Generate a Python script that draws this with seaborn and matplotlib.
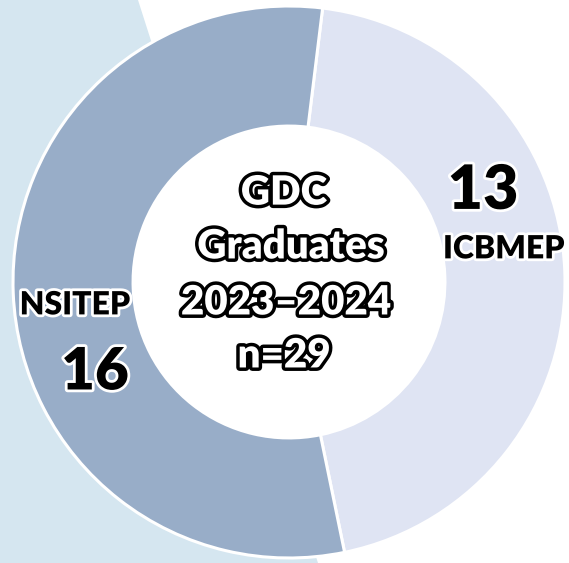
import matplotlib
matplotlib.use("Agg")
import matplotlib.pyplot as plt
import matplotlib.patheffects as pe
from matplotlib.patches import Polygon
import seaborn as sns

programs = ["ICBMEP", "NSITEP"]
graduates = [13, 16]
slice_colors = ["#dfe4f3", "#98adc8"]
center_lines = ["GDC", "Graduates", "2023–2024", "n=29"]

sns.set_theme(style="white")
plt.rcParams["font.family"] = ["Lato", "DejaVu Sans"]

W, H = 569, 563
fig = plt.figure(figsize=(W / 100, H / 100), dpi=100)
fig.patch.set_facecolor("white")

# light blue backdrop on the left
fig.patches.append(Polygon([(0, 1), (138 / W, 1), (318 / W, 0), (0, 0)],
                           closed=True, transform=fig.transFigure,
                           facecolor="#d5e6f0", edgecolor="none", zorder=-1))

cx, cy, R = 289, 282, 276
ax = fig.add_axes([(cx - R) / W, 1 - (cy + R) / H, 2 * R / W, 2 * R / H])
ax.set_facecolor("none")
ax.set_zorder(2)

ax.pie(graduates, colors=slice_colors, startangle=83, counterclock=False,
       radius=1.0, wedgeprops=dict(width=0.435, edgecolor="white", linewidth=2.2))
ax.add_patch(plt.Circle((0, 0), 0.565, facecolor="white", edgecolor="none", zorder=0.5))
ax.set_xlim(-1, 1)
ax.set_ylim(-1, 1)
ax.axis("off")

white_edge = [pe.withStroke(linewidth=4, foreground="white")]
black_edge = [pe.withStroke(linewidth=5, foreground="black")]

# slice labels
ax.text(0.703, 0.33, str(graduates[0]), ha="center", va="center", fontsize=44,
        fontweight="heavy", color="black", path_effects=white_edge)
ax.text(0.779, 0.12, programs[0], ha="center", va="center", fontsize=23,
        fontweight="heavy", color="black", path_effects=white_edge)
ax.text(-0.775, -0.083, programs[1], ha="center", va="center", fontsize=23,
        fontweight="heavy", color="black", path_effects=white_edge)
ax.text(-0.703, -0.326, str(graduates[1]), ha="center", va="center", fontsize=42,
        fontweight="heavy", color="black", path_effects=white_edge)

# centre title
for x, y, line in zip([-0.018, 0.007, -0.011, -0.018],
                      [0.322, 0.127, -0.076, -0.268], center_lines):
    ax.text(x, y, line, ha="center", va="center", fontsize=29,
            fontweight="heavy", color="white", path_effects=black_edge)

fig.savefig("out.png", dpi=100)
